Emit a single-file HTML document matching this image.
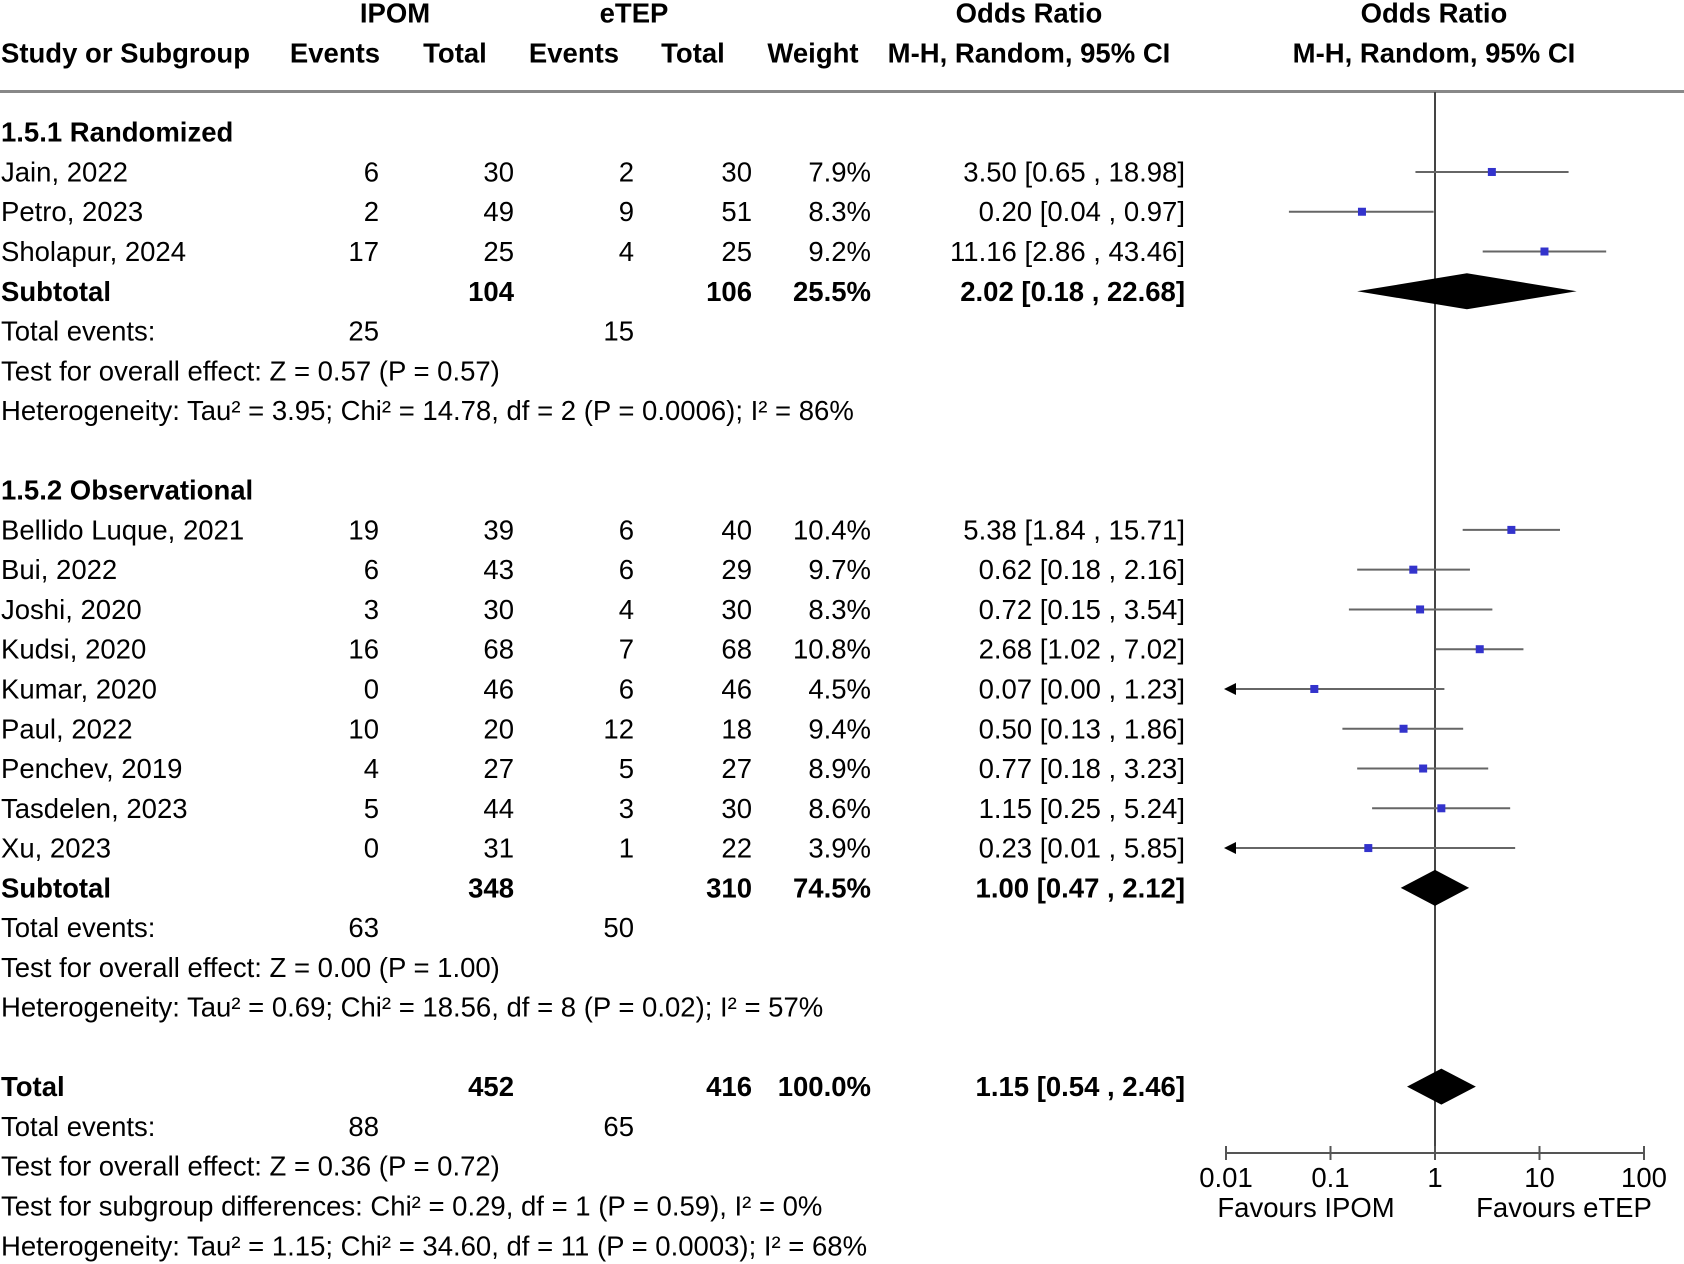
<!DOCTYPE html>
<html><head><meta charset="utf-8"><style>
html,body{margin:0;padding:0;background:#fff;}
svg{display:block;font-family:"Liberation Sans",Arial,sans-serif;}
</style></head><body>
<svg id="c" width="1684" height="1264" viewBox="0 0 1684 1264"></svg>
<script>
const studies=["Jain, 2022","Petro, 2023","Sholapur, 2024","Bellido Luque, 2021","Bui, 2022","Joshi, 2020","Kudsi, 2020","Kumar, 2020","Paul, 2022","Penchev, 2019","Tasdelen, 2023","Xu, 2023"];
const ipomEvents=[6,2,17,19,6,3,16,0,10,4,5,0];
const ipomTotal=[30,49,25,39,43,30,68,46,20,27,44,31];
const etepEvents=[2,9,4,6,6,4,7,6,12,5,3,1];
const etepTotal=[30,51,25,40,29,30,68,46,18,27,30,22];
const weights=["7.9%","8.3%","9.2%","10.4%","9.7%","8.3%","10.8%","4.5%","9.4%","8.9%","8.6%","3.9%"];
const orVal=[3.50,0.20,11.16,5.38,0.62,0.72,2.68,0.07,0.50,0.77,1.15,0.23];
const orLo=[0.65,0.04,2.86,1.84,0.18,0.15,1.02,0.00,0.13,0.18,0.25,0.01];
const orHi=[18.98,0.97,43.46,15.71,2.16,3.54,7.02,1.23,1.86,3.23,5.24,5.85];
const ciText=["3.50 [0.65 , 18.98]","0.20 [0.04 , 0.97]","11.16 [2.86 , 43.46]","5.38 [1.84 , 15.71]","0.62 [0.18 , 2.16]","0.72 [0.15 , 3.54]","2.68 [1.02 , 7.02]","0.07 [0.00 , 1.23]","0.50 [0.13 , 1.86]","0.77 [0.18 , 3.23]","1.15 [0.25 , 5.24]","0.23 [0.01 , 5.85]"];
const studyRows=[1,2,3,10,11,12,13,14,15,16,17,18];
const diaVal=[2.02,1.00,1.15];
const diaLo=[0.18,0.47,0.54];
const diaHi=[22.68,2.12,2.46];
const diaRows=[4,19,24];
const ticks=[0.01,0.1,1,10,100];
const tickLabels=["0.01","0.1","1","10","100"];

const svg=document.getElementById('c');
const NS="http://www.w3.org/2000/svg";
const FS=27.5;
function rowY(i){return 132.2+39.77*i;}
function xs(v){return 1435+104.5*Math.log10(v);}
const XMIN=xs(0.01),XMAX=xs(100);
function el(tag,attrs,name,text){const e=document.createElementNS(NS,tag);for(const k in attrs)e.setAttribute(k,attrs[k]);


if(text!==undefined)e.textContent=text;svg.appendChild(e);return e;}
function txt(x,y,s,anchor,bold,name){return el('text',{x:x,y:y+9.5,'font-size':FS,'text-anchor':anchor||'start','font-weight':bold?'bold':'normal',fill:'#000'},name,s);}

txt(395,13,"IPOM","middle",true,"ipom-header");
txt(634,13,"eTEP","middle",true,"etep-header");
txt(1029,13,"Odds Ratio","middle",true,"or-header");
txt(1434,13,"Odds Ratio","middle",true,"or-plot-header");
txt(1,53,"Study or Subgroup","start",true,"study-header");
txt(335,53,"Events","middle",true,"ipom-events-header");
txt(455,53,"Total","middle",true,"ipom-total-header");
txt(574,53,"Events","middle",true,"etep-events-header");
txt(693,53,"Total","middle",true,"etep-total-header");
txt(813,53,"Weight","middle",true,"weight-header");
txt(1029,53,"M-H, Random, 95% CI","middle",true,"ci-header");
txt(1434,53,"M-H, Random, 95% CI","middle",true,"ci-plot-header");
el('rect',{x:0,y:90,width:1684,height:3,fill:'#888'},'header-rule');

el('line',{x1:xs(1),y1:92,x2:xs(1),y2:1153,stroke:'#444','stroke-width':2},'no-effect-line');

for(let k=0;k<studies.length;k++){
 const y=rowY(studyRows[k]);
 txt(1,y,studies[k],"start",false,"study-name");
 txt(379,y,String(ipomEvents[k]),"end",false,"ipom-events");
 txt(514,y,String(ipomTotal[k]),"end",false,"ipom-total");
 txt(634,y,String(etepEvents[k]),"end",false,"etep-events");
 txt(752,y,String(etepTotal[k]),"end",false,"etep-total");
 txt(871,y,weights[k],"end",false,"weight");
 txt(1185,y,ciText[k],"end",false,"or-ci-text");
 const x1=Math.max(xs(Math.max(orLo[k],1e-6)),XMIN),x2=Math.min(xs(orHi[k]),XMAX);
 el('line',{x1:x1,y1:y,x2:x2,y2:y,stroke:'#666','stroke-width':2},'ci-line');
 if(orLo[k]<=0.01){el('polygon',{points:`${XMIN-2},${y} ${XMIN+10},${y-6} ${XMIN+10},${y+6}`,fill:'#000'},'ci-arrow');}
 const cx=xs(orVal[k]);
 el('rect',{x:cx-4,y:y-4,width:8,height:8,fill:'#3333cc'},'study-point');
}
for(let d=0;d<diaVal.length;d++){
 const y=rowY(diaRows[d]);
 el('polygon',{points:`${xs(diaLo[d])},${y} ${xs(diaVal[d])},${y-18} ${xs(diaHi[d])},${y} ${xs(diaVal[d])},${y+18}`,fill:'#000'},'pooled-diamond');
}
const T=[
[0,"1.5.1 Randomized",true],[9,"1.5.2 Observational",true],
[4,"Subtotal",true],[19,"Subtotal",true],[24,"Total",true],
[5,"Total events:",false],[20,"Total events:",false],[25,"Total events:",false],
[6,"Test for overall effect: Z = 0.57 (P = 0.57)",false],
[7,"Heterogeneity: Tau² = 3.95; Chi² = 14.78, df = 2 (P = 0.0006); I² = 86%",false],
[21,"Test for overall effect: Z = 0.00 (P = 1.00)",false],
[22,"Heterogeneity: Tau² = 0.69; Chi² = 18.56, df = 8 (P = 0.02); I² = 57%",false],
[26,"Test for overall effect: Z = 0.36 (P = 0.72)",false],
[27,"Test for subgroup differences: Chi² = 0.29, df = 1 (P = 0.59), I² = 0%",false],
[28,"Heterogeneity: Tau² = 1.15; Chi² = 34.60, df = 11 (P = 0.0003); I² = 68%",false]];
T.forEach(t=>txt(1,rowY(t[0]),t[1],"start",t[2],"row-label"));
const sub=[[4,"104","106","25.5%","2.02 [0.18 , 22.68]"],[19,"348","310","74.5%","1.00 [0.47 , 2.12]"],[24,"452","416","100.0%","1.15 [0.54 , 2.46]"]];
sub.forEach(s=>{const y=rowY(s[0]);txt(514,y,s[1],"end",true,"subtotal-ipom");txt(752,y,s[2],"end",true,"subtotal-etep");txt(871,y,s[3],"end",true,"subtotal-weight");txt(1185,y,s[4],"end",true,"subtotal-ci");});
const ev=[[5,"25","15"],[20,"63","50"],[25,"88","65"]];
ev.forEach(e=>{const y=rowY(e[0]);txt(379,y,e[1],"end",false,"total-events-ipom");txt(634,y,e[2],"end",false,"total-events-etep");});

el('line',{x1:XMIN,y1:1153,x2:XMAX,y2:1153,stroke:'#555','stroke-width':2},'x-axis');
ticks.forEach((t,i)=>{const x=xs(t);el('line',{x1:x,y1:1146,x2:x,y2:1160,stroke:'#555','stroke-width':2},'x-tick');
 el('text',{x:x,y:1187,'font-size':FS,'text-anchor':'middle',fill:'#000'},'x-tick-label',tickLabels[i]);});
el('text',{x:1306,y:1217,'font-size':FS,'text-anchor':'middle',fill:'#000'},'favours-ipom-label',"Favours IPOM");
el('text',{x:1564,y:1217,'font-size':FS,'text-anchor':'middle',fill:'#000'},'favours-etep-label',"Favours eTEP");
</script>
</body></html>
